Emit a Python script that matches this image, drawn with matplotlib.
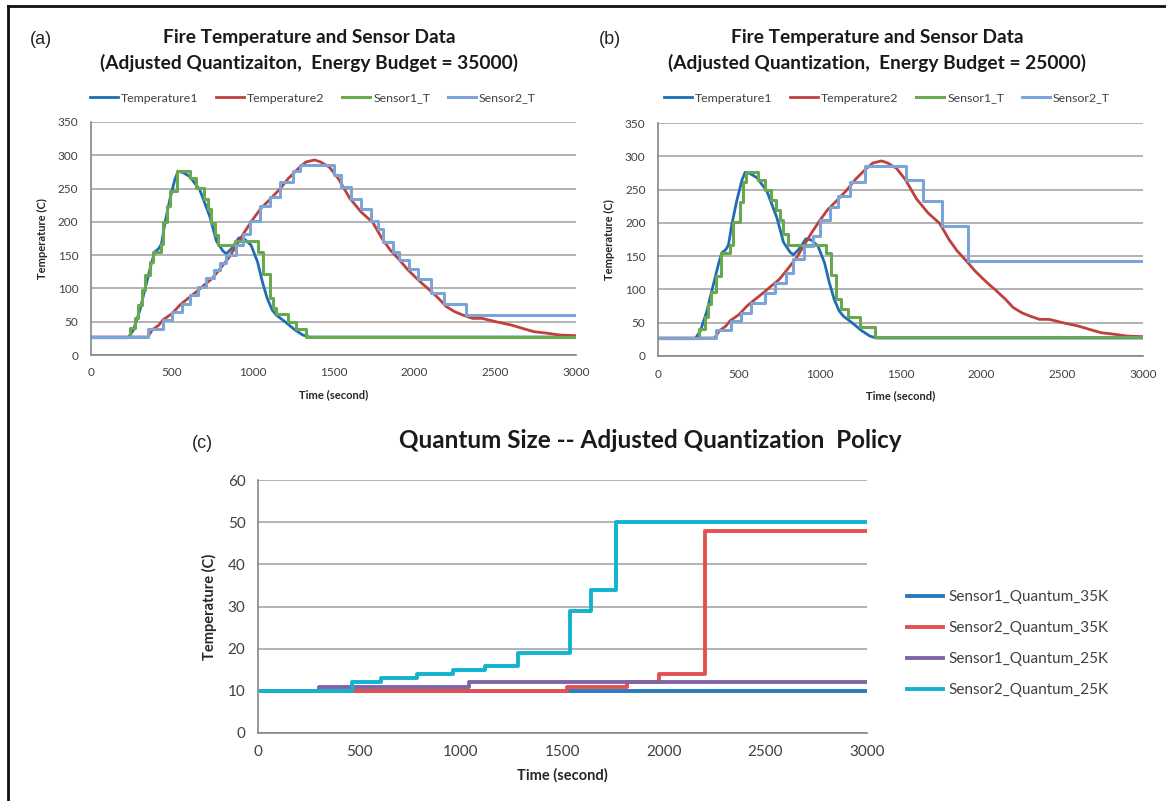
import matplotlib
matplotlib.use("Agg")
import matplotlib.pyplot as plt
from matplotlib.lines import Line2D

plt.rcParams["font.family"] = ["Lato", "DejaVu Sans"]

# fire temperatures (same fire for both runs)
temp1_t = [0, 230, 261, 302, 333, 374, 395, 420, 436, 457, 488, 519, 539, 570,
           611, 673, 735, 776, 817, 837, 870, 915, 950, 990, 1030, 1060, 1090,
           1120, 1146, 1200, 1260, 1310, 1350, 3000]
temp1 = [26, 26, 37, 67, 98, 138, 155, 160, 167, 198, 234, 264, 276, 274,
         268, 248, 208, 171, 156, 152, 160, 176, 174, 165, 140, 110, 85,
         68, 60, 50, 38, 30, 27, 27]

temp2_t = [0, 350, 380, 420, 446, 500, 550, 600, 652, 700, 750, 800, 858, 900, 950,
           1002, 1050, 1100, 1167, 1220, 1290, 1330, 1383, 1420, 1475, 1530, 1599,
           1670, 1743, 1800, 1850, 1907, 1960, 2010, 2050, 2093, 2150, 2196, 2250,
           2300, 2360, 2420, 2504, 2600, 2669, 2740, 2813, 2900, 3000]
temp2 = [27, 27, 38, 45, 53, 62, 75, 85, 95, 105, 115, 130, 148, 165, 185,
         204, 220, 232, 249, 265, 282, 290, 293, 290, 282, 265, 236,
         215, 199, 175, 158, 143, 128, 116, 107, 98, 85, 73, 65,
         60, 55, 55, 50, 45, 40, 35, 33, 30, 29]

# (a) energy budget 35000, sensor readings
a_s1_t = [0, 241, 272, 292, 313, 333, 364, 385, 436, 447, 471, 488, 529, 611, 652,
          698, 724, 745, 765, 786, 889, 1033, 1064, 1105, 1125, 1146, 1218, 1269,
          1331, 3000]
a_s1 = [27, 41, 55, 75, 98, 120, 140, 155, 167, 200, 224, 246, 276, 266, 251,
        234, 219, 199, 181, 165, 171, 154, 121, 86, 71, 62, 50, 39,
        27, 27]
a_s2_t = [0, 354, 446, 500, 560, 610, 660, 710, 760, 800, 837, 899, 940, 982, 1044,
          1105, 1167, 1249, 1290, 1506, 1547, 1609, 1670, 1733, 1775, 1805, 1866,
          1907, 1969, 2021, 2103, 2185, 2319, 3000]
a_s2 = [27, 39, 52, 64, 77, 90, 102, 115, 127, 138, 150, 165, 182, 201, 224,
        238, 260, 276, 285, 270, 253, 235, 219, 201, 190, 170, 154,
        143, 129, 114, 93, 77, 60, 60]

# (b) energy budget 25000, sensor readings
b_s1_t = [0, 254, 289, 310, 330, 361, 392, 443, 464, 505, 526, 546, 619, 660, 701,
          732, 753, 773, 804, 1041, 1072, 1103, 1134, 1175, 1247, 1340, 3000]
b_s1 = [27, 41, 59, 78, 96, 120, 155, 167, 201, 231, 261, 277, 265, 250, 235,
        219, 204, 184, 166, 154, 122, 86, 71, 58, 44, 29, 29]
b_s2_t = [0, 361, 453, 515, 577, 660, 722, 794, 835, 901, 959, 1000, 1062, 1113,
          1185, 1278, 1536, 1639, 1759, 1917, 3000]
b_s2 = [27, 39, 52, 65, 79, 94, 109, 124, 145, 165, 181, 204, 224, 240,
        261, 285, 264, 233, 195, 143, 143]

# (c) quantum sizes
q1_35_t = [15, 3000]
q1_35 = [10, 10]
q2_35_t = [15, 1523, 1820, 1974, 2200, 3000]
q2_35 = [10, 11, 12, 14, 48, 48]
q1_25_t = [15, 299, 1040, 3000]
q1_25 = [10, 11, 12, 12]
q2_25_t = [15, 462, 607, 783, 963, 1117, 1281, 1539, 1640, 1765, 3000]
q2_25 = [10, 12, 13, 14, 15, 16, 19, 29, 34, 50, 50]

W, H = 1166, 801
GRID = "#a6a6a6"
AXIS = "#868686"
TXT = "#404040"


def fx(px):
    return px / W


def fy(py):
    return 1 - py / H


def style_axes(ax):
    ax.set_axisbelow(True)
    ax.grid(axis="y", color=GRID, lw=1.2)
    ax.spines["top"].set_visible(False)
    ax.spines["right"].set_visible(False)
    ax.spines["left"].set_color(AXIS)
    ax.spines["bottom"].set_color(AXIS)
    ax.spines["left"].set_linewidth(1.2)
    ax.spines["bottom"].set_linewidth(1.2)


def fire_panel(fig, left, bottom, s1_t, s1, s2_t, s2, tag, tag_x, title2, title_x, leg_x):
    ax = fig.add_axes([fx(left), fy(bottom), 485 / W, 233 / H])
    ax.plot(temp1_t, temp1, color="#1f6db5", lw=2.0, label="Temperature1")
    ax.plot(temp2_t, temp2, color="#c0403c", lw=2.0, label="Temperature2")
    ax.plot(s1_t, s1, color="#6aa84f", lw=2.2, drawstyle="steps-post", label="Sensor1_T")
    ax.plot(s2_t, s2, color="#7ba4d8", lw=2.2, drawstyle="steps-post", label="Sensor2_T")
    ax.set_xlim(0, 3000)
    ax.set_ylim(0, 350)
    ax.set_xticks(range(0, 3001, 500))
    ax.set_yticks(range(0, 351, 50))
    style_axes(ax)
    ax.tick_params(length=0, labelsize=8.5, colors=TXT, pad=9)
    ax.set_xlabel("Time (second)", fontsize=8, fontweight="bold", color="#262626")
    ax.xaxis.set_label_coords(0.5, -0.17)
    ax.xaxis.label.set_va("center")
    ax.set_ylabel("Temperature (C)", fontsize=8, fontweight="bold", color="#262626")
    ax.yaxis.set_label_coords(-0.1, 0.5)
    ax.yaxis.label.set_va("center")
    fig.text(fx(tag_x), fy(40), tag, fontsize=13, family="Liberation Sans",
             va="center", color="#262626")
    fig.text(fx(title_x), fy(38), "Fire Temperature and Sensor Data", ha="center",
             va="center", fontsize=13.8, fontweight="bold", color="#1a1a1a")
    fig.text(fx(title_x), fy(63), title2, ha="center", va="center",
             fontsize=13.8, fontweight="bold", color="#1a1a1a")
    ax.legend(loc="center left", bbox_to_anchor=(fx(leg_x), fy(98)),
              bbox_transform=fig.transFigure, ncol=4, frameon=False,
              fontsize=8.9, handlelength=2.27, handletextpad=0.25,
              columnspacing=1.41, borderpad=0, borderaxespad=0, labelcolor=TXT)
    return ax


fig = plt.figure(figsize=(W / 100, H / 100), dpi=100)

fire_panel(fig, 91, 355, a_s1_t, a_s1, a_s2_t, a_s2, "(a)", 30,
           "(Adjusted Quantizaiton,  Energy Budget = 35000)", 309, 90)
fire_panel(fig, 658, 356, b_s1_t, b_s1, b_s2_t, b_s2, "(b)", 599,
           "(Adjusted Quantization,  Energy Budget = 25000)", 877, 664)

# (c) quantum size panel
axc = fig.add_axes([fx(258), fy(733), 609 / W, 253 / H])
axc.plot(q1_35_t, q1_35, color="#2a7bc0", lw=2.8, drawstyle="steps-post",
         label="Sensor1_Quantum_35K")
axc.plot(q2_35_t, q2_35, color="#e05252", lw=2.8, drawstyle="steps-post",
         label="Sensor2_Quantum_35K")
axc.plot(q1_25_t, q1_25, color="#8064a8", lw=2.8, drawstyle="steps-post",
         label="Sensor1_Quantum_25K")
axc.plot(q2_25_t, q2_25, color="#12b3cf", lw=2.8, drawstyle="steps-post",
         label="Sensor2_Quantum_25K")
axc.set_xlim(0, 3000)
axc.set_ylim(0, 60)
axc.set_xticks(range(0, 3001, 500))
axc.set_yticks(range(0, 61, 10))
style_axes(axc)
axc.tick_params(length=0, labelsize=11, colors=TXT, pad=9)
axc.set_xlabel("Time (second)", fontsize=10.5, fontweight="bold", color="#262626")
axc.xaxis.set_label_coords(0.5, -0.166)
axc.xaxis.label.set_va("center")
axc.set_ylabel("Temperature (C)", fontsize=10.5, fontweight="bold", color="#262626")
axc.yaxis.set_label_coords(-0.08, 0.5)
axc.yaxis.label.set_va("center")
fig.text(fx(192), fy(444), "(c)", fontsize=13, family="Liberation Sans",
         va="center", color="#262626")
fig.text(fx(650), fy(441), "Quantum Size -- Adjusted Quantization  Policy",
         ha="center", va="center", fontsize=17.5, fontweight="bold", color="#1a1a1a")
axc.legend(loc="upper left", bbox_to_anchor=(fx(907), fy(590)),
           bbox_transform=fig.transFigure, frameon=False, fontsize=11,
           handlelength=2.35, handletextpad=0.35, labelspacing=1.12,
           borderpad=0, borderaxespad=0, labelcolor=TXT)

# page frame
fig.add_artist(Line2D([fx(8), fx(8)], [fy(6), 0], color="#111111", lw=2,
                      transform=fig.transFigure))
fig.add_artist(Line2D([fx(8), 1], [fy(6), fy(6)], color="#111111", lw=2,
                      transform=fig.transFigure))

fig.savefig("out.png", dpi=100)
